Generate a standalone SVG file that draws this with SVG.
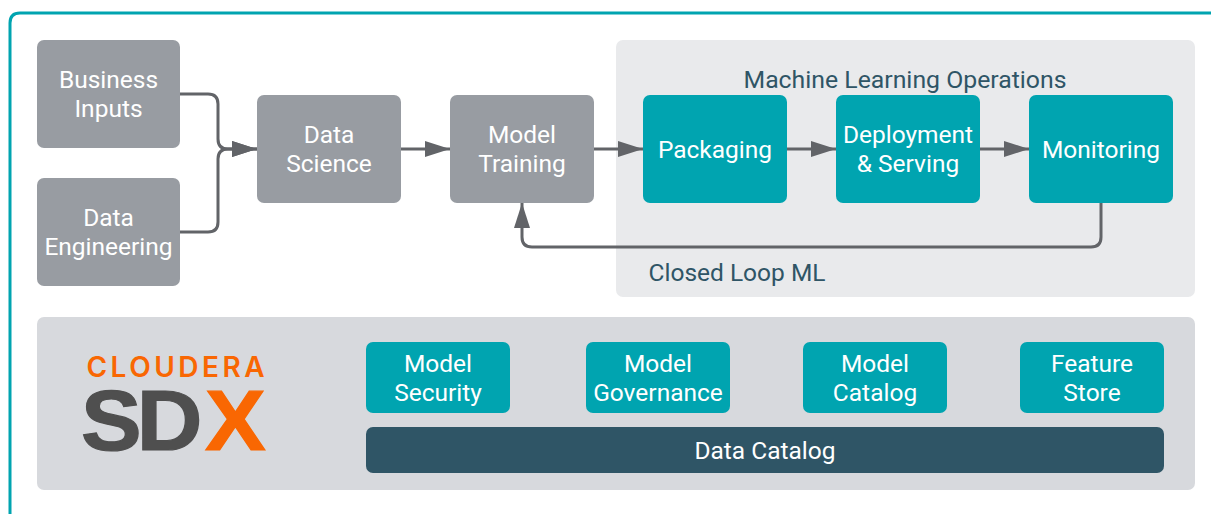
<svg xmlns="http://www.w3.org/2000/svg" width="1211" height="514" viewBox="0 0 1211 514">
<style>
text{font-family:Roboto,"Liberation Sans",sans-serif;font-size:24.5px;text-anchor:middle;fill:#fff}
.g{fill:#989ca2}.t{fill:#00a4b0}
.dark{fill:#2f5566}
.c{fill:none;stroke:#626468;stroke-width:3}
</style>
<defs><marker id="a" markerUnits="userSpaceOnUse" markerWidth="26" markerHeight="18" refX="25" refY="8" orient="auto"><path d="M0 0L25 8L0 16Z" fill="#626468"/></marker></defs>
<rect width="1211" height="514" fill="#fff"/>
<path d="M10 514V23Q10 13 20 13H1211" fill="none" stroke="#00a4b0" stroke-width="3"/>
<rect id="mlops-panel" x="616" y="40" width="579" height="257" rx="7" fill="#e9eaec"/>
<rect id="sdx-panel" x="37" y="317" width="1158" height="173" rx="7" fill="#d7d9dd"/>
<g id="connectors">
<path class="c" d="M180 94H208Q218 94 218 104V139Q218 149 228 149H257" marker-end="url(#a)"/>
<path class="c" d="M180 232H208Q218 232 218 222V159Q218 149 228 149H257" marker-end="url(#a)"/>
<path class="c" d="M401 149H450" marker-end="url(#a)"/>
<path class="c" d="M594 149H643" marker-end="url(#a)"/>
<path class="c" d="M787 149H836" marker-end="url(#a)"/>
<path class="c" d="M980 149H1029" marker-end="url(#a)"/>
<path class="c" d="M1101 203V237Q1101 247 1091 247H532Q522 247 522 237V203" marker-end="url(#a)"/>
</g>
<g id="business-inputs"><rect class="g" x="37" y="40" width="143" height="108" rx="7"/><text x="108.500" y="88">Business</text><text x="108.500" y="117">Inputs</text></g>
<g id="data-engineering"><rect class="g" x="37" y="178" width="143" height="108" rx="7"/><text x="108.500" y="226">Data</text><text x="108.500" y="255">Engineering</text></g>
<g id="data-science"><rect class="g" x="257" y="95" width="144" height="108" rx="7"/><text x="329" y="143">Data</text><text x="329" y="172">Science</text></g>
<g id="model-training"><rect class="g" x="450" y="95" width="144" height="108" rx="7"/><text x="522" y="143">Model</text><text x="522" y="172">Training</text></g>
<g id="packaging"><rect class="t" x="643" y="95" width="144" height="108" rx="7"/><text x="715" y="158">Packaging</text></g>
<g id="deployment"><rect class="t" x="836" y="95" width="144" height="108" rx="7"/><text x="908" y="143">Deployment</text><text x="908" y="172">&amp; Serving</text></g>
<g id="monitoring"><rect class="t" x="1029" y="95" width="144" height="108" rx="7"/><text x="1101" y="158">Monitoring</text></g>
<text class="dark" x="905" y="88" style="font-size:24.800px">Machine Learning Operations</text>
<text class="dark" x="737" y="281">Closed Loop ML</text>
<g id="logo">
<text x="175.500" y="377" style="font-family:Inter,Roboto,sans-serif;font-size:28px;font-weight:600;fill:#f96702" textLength="178" lengthAdjust="spacing">CLOUDERA</text>
<text transform="translate(81 450) scale(1.070 1)" x="0 52 116" y="0" style="font-family:'Liberation Sans',sans-serif;font-size:85px;font-weight:700;text-anchor:start;fill:#4f4f4f;stroke:#4f4f4f;stroke-width:1.2px">SD<tspan style="fill:#f96702;stroke:#f96702">X</tspan></text>
</g>
<g id="model-security"><rect class="t" x="366" y="342" width="144" height="71" rx="7"/><text x="438" y="372">Model</text><text x="438" y="401">Security</text></g>
<g id="model-governance"><rect class="t" x="586" y="342" width="144" height="71" rx="7"/><text x="658" y="372">Model</text><text x="658" y="401">Governance</text></g>
<g id="model-catalog"><rect class="t" x="803" y="342" width="144" height="71" rx="7"/><text x="875" y="372">Model</text><text x="875" y="401">Catalog</text></g>
<g id="feature-store"><rect class="t" x="1020" y="342" width="144" height="71" rx="7"/><text x="1092" y="372">Feature</text><text x="1092" y="401">Store</text></g>
<g id="data-catalog"><rect x="366" y="427" width="798" height="46" rx="7" fill="#2f5566"/><text x="765" y="459">Data Catalog</text></g>
</svg>
